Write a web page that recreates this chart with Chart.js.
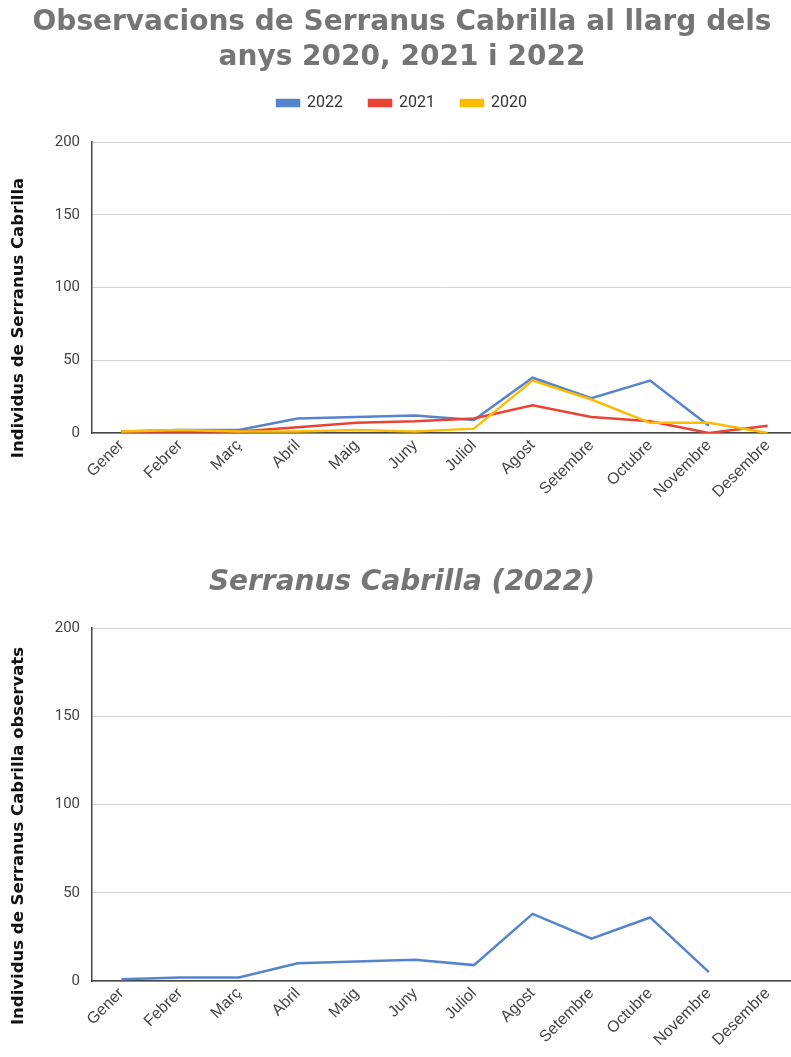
<!DOCTYPE html>
<html>
<head>
<meta charset="utf-8">
<title>Serranus Cabrilla</title>
<script src="https://cdn.jsdelivr.net/npm/chart.js@4.4.1/dist/chart.umd.min.js"></script>
<style>
  html, body { margin: 0; padding: 0; background: #ffffff; overflow: hidden; }
  .box { position: absolute; left: 0; width: 797px; }
  #topBox { top: 0; height: 540px; }
  #bottomBox { top: 540px; height: 517px; }
</style>
</head>
<body>
<div class="box" id="topBox"><canvas id="yearsChart"></canvas></div>
<div class="box" id="bottomBox"><canvas id="chart2022"></canvas></div>
<script>
// Monthly observations of Serranus cabrilla
const months = ['Gener', 'Febrer', 'Març', 'Abril', 'Maig', 'Juny', 'Juliol',
                'Agost', 'Setembre', 'Octubre', 'Novembre', 'Desembre'];
const obs2022 = [1, 2, 2, 10, 11, 12, 9, 38, 24, 36, 5, null];
const obs2021 = [1, 1, 1, 4, 7, 8, 10, 19, 11, 8, 0, 5];
const obs2020 = [1, 2, 1, 1, 2, 1, 3, 36, 23, 7, 7, 0];
const yTicks = [0, 50, 100, 150, 200];

const BLUE = '#5584cc';
const RED = '#ea4335';
const YELLOW = '#fbbc04';

// Rotated axis title drawn at a fixed position on the left edge
const sideTitle = {
  id: 'sideTitle',
  afterDraw(chart, args, opts) {
    const ctx = chart.ctx;
    ctx.save();
    ctx.translate(opts.x, opts.y);
    ctx.rotate(-Math.PI / 2);
    ctx.font = 'bold 16.5px "DejaVu Sans", sans-serif';
    ctx.fillStyle = '#111111';
    ctx.textAlign = 'center';
    ctx.textBaseline = 'middle';
    ctx.fillText(opts.text, 0, 0);
    ctx.restore();
  }
};

// Extra space between the legend and the plot area
const legendGap = {
  id: 'legendGap',
  beforeLayout(chart, args, opts) {
    const lg = chart.legend;
    if (lg && !lg._gapWrapped) {
      const fit = lg.fit;
      lg.fit = function () { fit.call(this); this.height += opts.extra; };
      lg._gapWrapped = true;
    }
  }
};

function yScale() {
  return {
    min: 0,
    max: 200,
    afterBuildTicks(scale) { scale.ticks = yTicks.map(v => ({ value: v })); },
    afterFit(scale) { scale.width = 85; },
    grid: { color: '#d3d3d3', lineWidth: 1, drawTicks: false },
    border: { display: true, color: '#444444', width: 1.5 },
    ticks: {
      padding: 12,
      color: '#444444',
      font: { family: 'Roboto', size: 15 }
    }
  };
}

function xScale(h) {
  return {
    offset: true,
    afterFit(scale) { scale.height = h; },
    grid: { display: false, drawTicks: false },
    border: { display: true, color: '#444444', width: 1.5 },
    ticks: {
      autoSkip: false,
      maxRotation: 45,
      minRotation: 45,
      padding: 3,
      color: '#444444',
      font: { family: '"Liberation Sans", Arial, sans-serif', size: 16 }
    }
  };
}

function lineSet(label, data, color, order) {
  return {
    label: label,
    data: data,
    borderColor: color,
    backgroundColor: color,
    borderWidth: 2.5,
    pointRadius: 0,
    pointHoverRadius: 0,
    tension: 0,
    order: order
  };
}

new Chart(document.getElementById('yearsChart'), {
  type: 'line',
  data: {
    labels: months,
    datasets: [
      lineSet('2022', obs2022, BLUE, 3),
      lineSet('2021', obs2021, RED, 2),
      lineSet('2020', obs2020, YELLOW, 1)
    ]
  },
  options: {
    responsive: true,
    maintainAspectRatio: false,
    animation: false,
    layout: { padding: { left: 7, right: 0, top: 0, bottom: 0 } },
    scales: { x: xScale(107), y: yScale() },
    plugins: {
      title: {
        display: true,
        text: ['Observacions de Serranus Cabrilla al llarg dels', 'anys 2020, 2021 i 2022'],
        color: '#757575',
        font: { family: '"DejaVu Sans", sans-serif', size: 28, weight: 'bold', lineHeight: 1.25 },
        padding: { top: 5, bottom: -6 }
      },
      legend: {
        display: true,
        position: 'top',
        labels: {
          boxWidth: 22,
          boxHeight: 6,
          padding: 26,
          color: '#333333',
          font: { family: 'Roboto', size: 16 },
          sort: (a, b) => a.datasetIndex - b.datasetIndex
        }
      },
      legendGap: { extra: 21 },
      sideTitle: { text: 'Individus de Serranus Cabrilla', x: 19, y: 318 },
      tooltip: { enabled: false }
    }
  },
  plugins: [sideTitle, legendGap]
});

new Chart(document.getElementById('chart2022'), {
  type: 'line',
  data: {
    labels: months,
    datasets: [lineSet('2022', obs2022, BLUE, 1)]
  },
  options: {
    responsive: true,
    maintainAspectRatio: false,
    animation: false,
    layout: { padding: { left: 7, right: 0, top: 0, bottom: 0 } },
    scales: { x: xScale(76), y: yScale() },
    plugins: {
      title: {
        display: true,
        text: 'Serranus Cabrilla (2022)',
        color: '#757575',
        font: { family: '"DejaVu Sans", sans-serif', size: 28, weight: 'bold', style: 'italic', lineHeight: 1.25 },
        padding: { top: 25.5, bottom: 27.5 }
      },
      legend: { display: false },
      sideTitle: { text: 'Individus de Serranus Cabrilla observats', x: 19, y: 296 },
      tooltip: { enabled: false }
    }
  },
  plugins: [sideTitle]
});
</script>
</body>
</html>
